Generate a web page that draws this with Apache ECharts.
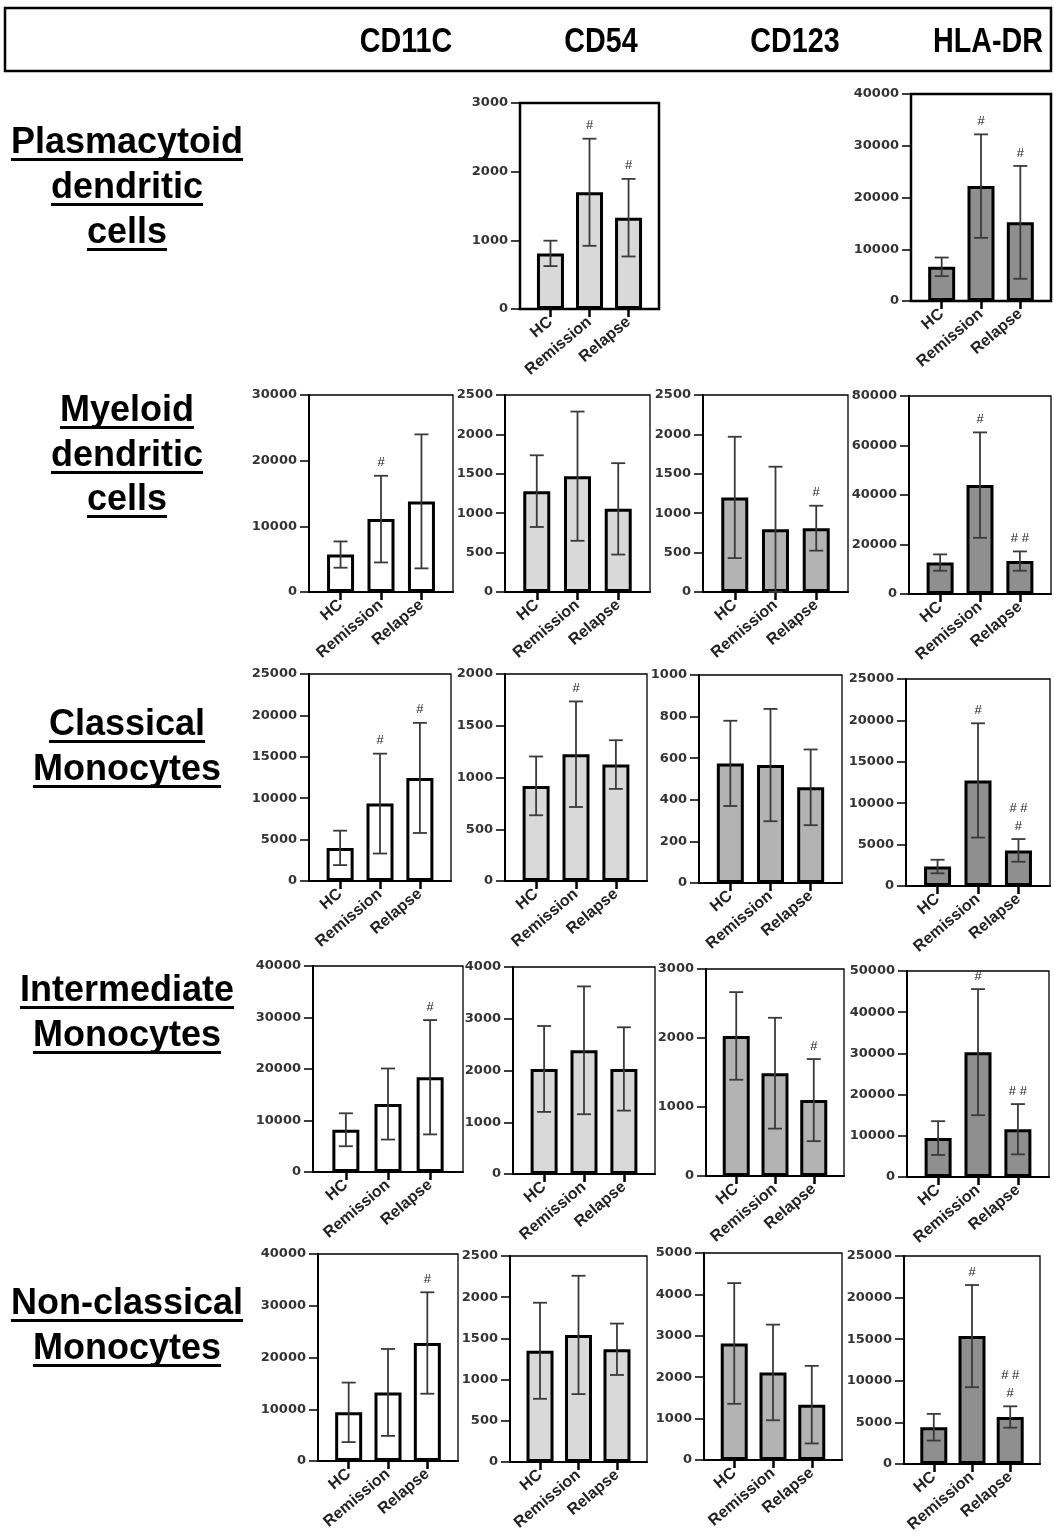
<!DOCTYPE html>
<html>
<head>
<meta charset="utf-8">
<title>Surface markers by cell population</title>
<script src="https://cdn.jsdelivr.net/npm/echarts@6/dist/echarts.min.js"></script>
<style>
  html, body { margin: 0; padding: 0; background: #fff; }
  #c { width: 1054px; height: 1537px; }
</style>
</head>
<body>
<div id="c"></div>
<script>
// ---- data -------------------------------------------------------------
const groups = ['HC', 'Remission', 'Relapse'];
const markers = ['CD11C', 'CD54', 'CD123', 'HLA-DR'];
const cellTypeLines = [
  ['Plasmacytoid', 'dendritic', 'cells'],
  ['Myeloid', 'dendritic', 'cells'],
  ['Classical', 'Monocytes'],
  ['Intermediate', 'Monocytes'],
  ['Non-classical', 'Monocytes']
];

// per marker column: CD11C, CD54, CD123, HLA-DR (mean, SD, significance marks, y ticks)
const pdcMean  = [null, [810, 1700, 1330], null, [6600, 22200, 15200]];
const pdcSD    = [null, [185, 780, 565], null, [1800, 10000, 10900]];
const pdcSig   = [null, ['', '#', '#'], null, ['', '#', '#']];
const pdcTicks = [null, [0, 1000, 2000, 3000], null, [0, 10000, 20000, 30000, 40000]];

const mdcMean  = [[5700, 11100, 13800], [1280, 1470, 1055], [1200, 795, 810], [12700, 44000, 13300]];
const mdcSD    = [[2000, 6600, 10200], [455, 820, 580], [770, 795, 285], [3300, 21300, 3900]];
const mdcSig   = [['', '#', ''], ['', '', ''], ['', '', '#'], ['', '#', '# #']];
const mdcTicks = [[0, 10000, 20000, 30000], [0, 500, 1000, 1500, 2000, 2500],
                  [0, 500, 1000, 1500, 2000, 2500], [0, 20000, 40000, 60000, 80000]];

const cmMean  = [[4000, 9350, 12450], [919, 1225, 1125], [575, 567, 460], [2350, 12750, 4300]];
const cmSD    = [[2080, 6030, 6650], [284, 510, 235], [205, 270, 182], [820, 6900, 1370]];
const cmSig   = [['', '#', '#'], ['', '#', ''], ['', '', ''], ['', '#', '# #\n#']];
const cmTicks = [[0, 5000, 10000, 15000, 20000, 25000], [0, 500, 1000, 1500, 2000],
                 [0, 200, 400, 600, 800, 1000], [0, 5000, 10000, 15000, 20000, 25000]];

const imMean  = [[8200, 13200, 18400], [2030, 2390, 2030], [2030, 1490, 1100], [9450, 30300, 11600]];
const imSD    = [[3200, 6900, 11100], [830, 1235, 805], [635, 803, 595], [4100, 15300, 6100]];
const imSig   = [['', '', '#'], ['', '', ''], ['', '', '#'], ['', '#', '# #']];
const imTicks = [[0, 10000, 20000, 30000, 40000], [0, 1000, 2000, 3000, 4000],
                 [0, 1000, 2000, 3000], [0, 10000, 20000, 30000, 40000, 50000]];

const ncmMean  = [[9400, 13250, 22800], [1350, 1542, 1368], [2815, 2115, 1337], [4420, 15370, 5650]];
const ncmSD    = [[5750, 8400, 9800], [583, 718, 312], [1458, 1155, 937], [1605, 6140, 1284]];
const ncmSig   = [['', '', '#'], ['', '', ''], ['', '', ''], ['', '#', '# #\n#']];
const ncmTicks = [[0, 10000, 20000, 30000, 40000], [0, 500, 1000, 1500, 2000, 2500],
                  [0, 1000, 2000, 3000, 4000, 5000], [0, 5000, 10000, 15000, 20000, 25000]];

const rowMeans = [pdcMean, mdcMean, cmMean, imMean, ncmMean];
const rowSDs   = [pdcSD, mdcSD, cmSD, imSD, ncmSD];
const rowSigs  = [pdcSig, mdcSig, cmSig, imSig, ncmSig];
const rowTicks = [pdcTicks, mdcTicks, cmTicks, imTicks, ncmTicks];

// ---- layout -------------------------------------------------------------
// plot frames as [left, right, top, bottom] in page pixels
const panelBoxes = [
  [null, [520, 659, 103, 309], null, [911, 1051, 94, 301]],
  [[309, 453, 395, 592], [505, 650, 395, 592], [703, 848, 395, 592], [909, 1051, 396, 594]],
  [[309, 451, 674, 881], [505, 647, 674, 881], [699, 842, 675, 883], [906, 1050, 679, 886]],
  [[313, 463, 966, 1172], [513, 655, 967, 1174], [706, 844, 969, 1176], [907, 1049, 971, 1177]],
  [[318, 458, 1254, 1461], [510, 647, 1256, 1462], [704, 842, 1253, 1460], [904, 1040, 1256, 1464]]
];
const columnFill = ['#ffffff', '#d9d9d9', '#b3b3b3', '#8f8f8f'];
const headerX = [406, 601, 795, 988];
const labelBaselines = [[155, 200, 245], [423, 468, 512], [737, 782], [1003, 1048], [1316, 1361]];

const chart = echarts.init(document.getElementById('c'), null, { renderer: 'canvas' });

const grids = [], xAxes = [], yAxes = [], series = [];

function errorBarRenderer(sigs) {
  return function (params, api) {
    const x = api.value(0), m = api.value(1), s = api.value(2);
    const top = api.coord([x, m + s]);
    const bot = api.coord([x, Math.max(m - s, 0)]);
    const hw = 7;
    const st = { stroke: '#3a3a3a', lineWidth: 1.8 };
    const children = [
      { type: 'line', shape: { x1: top[0], y1: top[1], x2: bot[0], y2: bot[1] }, style: st },
      { type: 'line', shape: { x1: top[0] - hw, y1: top[1], x2: top[0] + hw, y2: top[1] }, style: st },
      { type: 'line', shape: { x1: bot[0] - hw, y1: bot[1], x2: bot[0] + hw, y2: bot[1] }, style: st }
    ];
    const sig = sigs[params.dataIndex];
    if (sig) {
      children.push({
        type: 'text',
        style: {
          text: sig, x: top[0], y: top[1] - 4,
          textAlign: 'center', textVerticalAlign: 'bottom',
          font: '13px "Liberation Sans"', fill: '#222', lineHeight: 18
        }
      });
    }
    return { type: 'group', children: children };
  };
}

let idx = 0;
for (let r = 0; r < 5; r++) {
  for (let c = 0; c < 4; c++) {
    const box = panelBoxes[r][c];
    const mean = rowMeans[r][c];
    if (!box || !mean) continue;
    const sd = rowSDs[r][c];
    const sig = rowSigs[r][c];
    const ticks = rowTicks[r][c];

    grids.push({
      left: box[0], top: box[2], width: box[1] - box[0], height: box[3] - box[2],
      show: true, borderColor: '#000', borderWidth: r === 0 ? 2.5 : 1.3,
      backgroundColor: 'transparent'
    });
    xAxes.push({
      gridIndex: idx, type: 'value', min: -0.78, max: 2.78,
      splitLine: { show: false },
      axisLine: { show: true, onZero: false, lineStyle: { color: '#000', width: 2 } },
      axisTick: { show: true, customValues: [0, 1, 2], length: 8, lineStyle: { color: '#000', width: 2.5 } },
      axisLabel: {
        customValues: [0, 1, 2],
        formatter: v => groups[Math.round(v)],
        rotate: 40, margin: 11,
        fontFamily: 'Liberation Sans', fontWeight: 'bold', fontSize: 16, color: '#222'
      }
    });
    yAxes.push({
      gridIndex: idx, type: 'value',
      min: ticks[0], max: ticks[ticks.length - 1], interval: ticks[1] - ticks[0],
      splitLine: { show: false },
      axisLine: { show: true, onZero: false, lineStyle: { color: '#000', width: 2 } },
      axisTick: { show: true, length: 9, lineStyle: { color: '#000', width: 1.5 } },
      axisLabel: {
        margin: 12, formatter: v => String(v),
        fontFamily: 'DejaVu Sans', fontWeight: 'bold', fontSize: 13, color: '#333'
      }
    });
    series.push({
      type: 'bar', xAxisIndex: idx, yAxisIndex: idx,
      data: mean.map((m, i) => [i, m]),
      barWidth: 27,
      itemStyle: { color: columnFill[c], borderColor: '#000', borderWidth: 3 },
      z: 2
    });
    series.push({
      type: 'custom', xAxisIndex: idx, yAxisIndex: idx,
      data: mean.map((m, i) => [i, m, sd[i]]),
      renderItem: errorBarRenderer(sig),
      z: 3
    });
    idx++;
  }
}

// ---- header and row titles --------------------------------------------
const measureCtx = document.createElement('canvas').getContext('2d');
const rowFont = 'bold 36px "Liberation Sans"';
measureCtx.font = rowFont;

const graphics = [
  { type: 'rect', shape: { x: 5, y: 8, width: 1046, height: 63 },
    style: { fill: 'none', stroke: '#000', lineWidth: 2.5 } }
];
markers.forEach((m, i) => {
  graphics.push({
    type: 'text', x: headerX[i], y: 42, scaleX: 0.82,
    style: { text: m, x: 0, y: 0, textAlign: 'center', textVerticalAlign: 'middle',
             font: 'bold 35px "Liberation Sans"', fill: '#000' }
  });
});
cellTypeLines.forEach((lines, r) => {
  lines.forEach((t, k) => {
    const base = labelBaselines[r][k];
    const w = measureCtx.measureText(t).width;
    graphics.push({
      type: 'text',
      style: { text: t, x: 127, y: base - 30, textAlign: 'center', textVerticalAlign: 'top',
               font: rowFont, fill: '#000' }
    });
    graphics.push({
      type: 'rect', shape: { x: 127 - w / 2, y: base + 3, width: w, height: 3 },
      style: { fill: '#000' }
    });
  });
});

chart.setOption({
  animation: false,
  backgroundColor: '#fff',
  grid: grids,
  xAxis: xAxes,
  yAxis: yAxes,
  series: series,
  graphic: graphics
});
</script>
</body>
</html>
